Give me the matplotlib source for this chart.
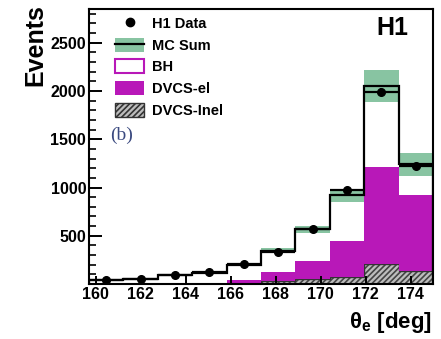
import numpy as np
import matplotlib.pyplot as plt
from matplotlib.patches import Patch
from matplotlib.lines import Line2D
from matplotlib.ticker import MultipleLocator

plt.rcParams['font.family'] = ['Liberation Sans', 'DejaVu Sans']
plt.rcParams['font.weight'] = 'bold'
plt.rcParams['mathtext.fontset'] = 'custom'
plt.rcParams['mathtext.bf'] = 'Liberation Sans:bold'
plt.rcParams['mathtext.rm'] = 'Liberation Sans:bold'
plt.rcParams['hatch.linewidth'] = 1.2

# theta_e bins
edges = np.linspace(159.7, 175.0, 11)
data = [40, 50, 90, 120, 210, 330, 572, 970, 1990, 1222]
mc_sum = [44, 54, 96, 118, 200, 345, 565, 920, 2050, 1240]
mc_err = [8, 8, 10, 14, 18, 25, 35, 65, 165, 122]
dvcs_el = [3, 3, 4, 5, 30, 98, 180, 369, 1009, 788]
dvcs_inel = [4, 4, 5, 5, 12, 30, 54, 72, 203, 130]

centers = 0.5 * (edges[1:] + edges[:-1])
width = np.diff(edges)
mc_sum = np.array(mc_sum)
mc_err = np.array(mc_err)
data = np.array(data)

green = '#88c4a2'
magenta = '#b818b8'

fig = plt.figure(figsize=(4.41, 3.39), dpi=100)
ax = fig.add_axes([89/441, 1 - 284/339, 344/441, 275/339])

# MC uncertainty band
ax.bar(edges[:-1], 2 * mc_err, bottom=mc_sum - mc_err, width=width,
       align='edge', color=green, linewidth=0)
# DVCS inelastic (hatched) and elastic stacked on it
ax.bar(edges[:-1], dvcs_inel, width=width, align='edge', facecolor='#bdbdbd',
       edgecolor='#444444', hatch='//////', linewidth=0)
ax.stairs(dvcs_inel, edges, color='#333333', linewidth=1.0)
ax.bar(edges[:-1], dvcs_el, bottom=dvcs_inel, width=width, align='edge',
       color=magenta, linewidth=0)
# MC sum outline
ax.stairs(mc_sum, edges, baseline=0, color='black', linewidth=1.6)
# H1 data
ax.errorbar(centers, data, xerr=width / 2, yerr=np.sqrt(data), fmt='o',
            color='black', markersize=5.5, elinewidth=1.6, capsize=0)

ax.set_xlim(159.7, 175.0)
ax.set_ylim(0, 2850)
ax.xaxis.set_major_locator(MultipleLocator(2))
ax.yaxis.set_major_locator(MultipleLocator(500))
ax.yaxis.set_minor_locator(MultipleLocator(100))
ax.set_yticks([500, 1000, 1500, 2000, 2500])
ax.tick_params(axis='y', which='major', direction='in', length=9, width=1.4,
               labelsize=11.5, pad=2)
ax.tick_params(axis='y', which='minor', direction='in', length=5, width=1.2)
ax.tick_params(axis='x', which='major', direction='in', length=6, width=1.4,
               labelsize=11.5, pad=2)
for lab in ax.get_xticklabels() + ax.get_yticklabels():
    lab.set_fontweight('bold')
for sp in ax.spines.values():
    sp.set_linewidth(1.5)

handles = [
    Line2D([], [], marker='o', color='black', linestyle='none', markersize=6),
    (Patch(facecolor=green, edgecolor='none'), Line2D([], [], color='black', linewidth=1.6)),
    Patch(facecolor='white', edgecolor=magenta, linewidth=1.5),
    Patch(facecolor=magenta, edgecolor='none'),
    Patch(facecolor='#bdbdbd', edgecolor='#333333', hatch='//////', linewidth=1.0),
]
labels = ['H1 Data', 'MC Sum', 'BH', 'DVCS-el', 'DVCS-Inel']
ax.legend(handles, labels, loc='upper left', bbox_to_anchor=(0.067, 0.985),
          frameon=False, handlelength=2.0, handleheight=1.1,
          labelspacing=0.46, handletextpad=0.55, borderpad=0.2,
          borderaxespad=0, prop={'weight': 'bold', 'size': 10.5})

ax.text(0.927, 0.975, 'H1', transform=ax.transAxes, ha='right', va='top',
        fontsize=18, fontweight='bold')
ax.text(0.095, 0.542, '(b)', transform=ax.transAxes, ha='center', va='center',
        fontsize=14, family='Liberation Serif', fontweight='normal', color='#3b4a80')

fig.text(35/441, 1 - 4/339, 'Events', rotation=90, ha='center', va='top',
         fontsize=18, fontweight='bold')
fig.text(432/441, 1 - 335/339, r'θ$_\mathbf{e}$ [deg]', ha='right', va='bottom',
         fontsize=16, fontweight='bold')

fig.savefig('out.png', dpi=100)
